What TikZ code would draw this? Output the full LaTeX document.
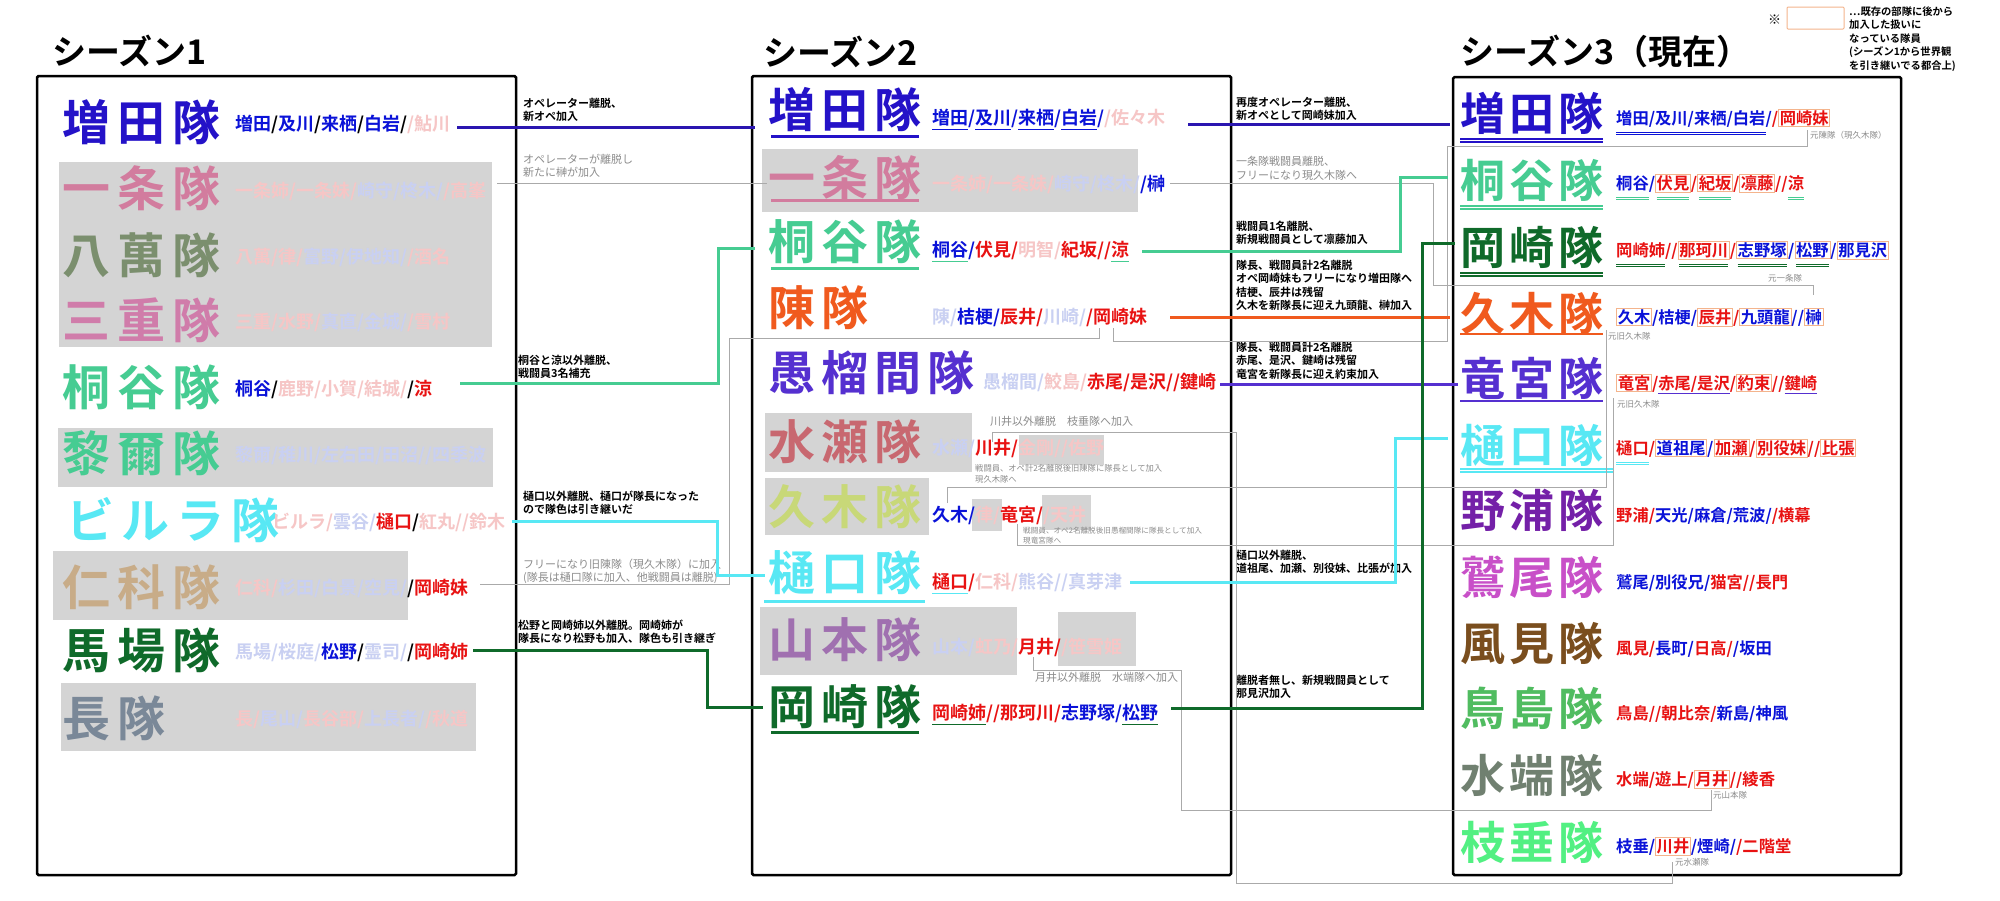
\documentclass[tikz,border=0pt]{standalone}
\usepackage{fontspec}
\setmainfont{Noto Sans CJK JP}[BoldFont={Noto Sans CJK JP Bold}]
\usetikzlibrary{calc}
\newcommand\gA{\kern7pt\relax}
\newcommand\gB{\kern6pt\relax}
\newcommand\gC{\kern4pt\relax}
\definecolor{cmas}{HTML}{2412C8}
\definecolor{lmas}{HTML}{2A16B0}
\definecolor{cichi}{HTML}{D27C9E}
\definecolor{chachi}{HTML}{7B8F6E}
\definecolor{cmie}{HTML}{D07CAA}
\definecolor{ckiri}{HTML}{46CC92}
\definecolor{cbir}{HTML}{58E8F4}
\definecolor{cnish}{HTML}{C8AC88}
\definecolor{cbaba}{HTML}{0F6A2A}
\definecolor{ccho}{HTML}{7A8898}
\definecolor{cchin}{HTML}{F05A1E}
\definecolor{cguru}{HTML}{5530D0}
\definecolor{cmina}{HTML}{C86870}
\definecolor{ckuki}{HTML}{C8D878}
\definecolor{cyama}{HTML}{A070B0}
\definecolor{cnou}{HTML}{7420A8}
\definecolor{cwas}{HTML}{C850C8}
\definecolor{ckaz}{HTML}{7A4E1E}
\definecolor{ctori}{HTML}{50BC60}
\definecolor{cmiz}{HTML}{708070}
\definecolor{cshi}{HTML}{52F082}
\definecolor{nbc}{HTML}{0A12D8}
\definecolor{nrc}{HTML}{E81212}
\definecolor{fpc}{HTML}{F6C6C6}
\definecolor{fbc}{HTML}{C9D0F2}
\definecolor{boxg}{HTML}{D4D4D4}
\definecolor{gtxt}{HTML}{8C8C8C}
\definecolor{glc}{HTML}{AAAAAA}
\definecolor{obc}{HTML}{F4B48C}
\newcommand\nb[1]{\textcolor{nbc}{#1}}
\newcommand\nr[1]{\textcolor{nrc}{#1}}
\newcommand\fp[1]{\textcolor{fpc}{#1}}
\newcommand\fb[1]{\textcolor{fbc}{#1}}
\setlength\fboxsep{0.8pt}
\setlength\fboxrule{0.8pt}
\newcommand\ob[1]{\smash{\fcolorbox{obc}{white}{#1}}}
\newcommand\ulx[2]{\setbox0\hbox{#2}\rlap{\smash{\textcolor{#1}{\rule[-5pt]{\wd0}{1.2pt}}}}\box0}
\newcommand\uux[2]{\setbox0\hbox{#2}\rlap{\smash{\textcolor{#1}{\rule[-8.5pt]{\wd0}{1.1pt}}}}\rlap{\smash{\textcolor{#1}{\rule[-11pt]{\wd0}{1.1pt}}}}\box0}
\tikzset{
 tA/.style={anchor=west, inner sep=0pt, font=\fontsize{48}{48}\selectfont\bfseries, text height=42.24pt, text depth=5.76pt},
 tB/.style={anchor=west, inner sep=0pt, font=\fontsize{47}{47}\selectfont\bfseries, text height=41.36pt, text depth=5.64pt},
 tC/.style={anchor=west, inner sep=0pt, font=\fontsize{45}{45}\selectfont\bfseries, text height=39.6pt, text depth=5.4pt},
 mA/.style={anchor=west, inner sep=0pt, font=\fontsize{18}{18}\selectfont\bfseries, text height=15.84pt, text depth=2.16pt},
 mC/.style={anchor=west, inner sep=0pt, font=\fontsize{16.3}{16.3}\selectfont\bfseries, text height=14.34pt, text depth=1.96pt},
 ttl/.style={anchor=west, inner sep=0pt, font=\fontsize{34}{34}\selectfont\bfseries, text height=29.9pt, text depth=4.1pt},
 note/.style={anchor=north west, inner sep=0pt, align=left, font=\fontsize{11}{13.5}\selectfont\bfseries},
 gnote/.style={anchor=north west, inner sep=0pt, align=left, text=gtxt, font=\fontsize{11}{13.5}\selectfont},
 tnote/.style={anchor=north west, inner sep=0pt, align=left, text=gtxt, font=\fontsize{8.3}{11}\selectfont},
 lab/.style={anchor=west, inner sep=0pt, text=gtxt, font=\fontsize{8.5}{8.5}\selectfont},
 colbox/.style={draw=black, line width=2.5pt, rounded corners=1.5pt},
 gl/.style={draw=glc, line width=1pt},
 cl/.style={line width=3pt},
 ulb/.style={line width=3pt},
 ulc/.style={line width=1.8pt},
}
\begin{document}
\begin{tikzpicture}[x=1pt,y=-1pt]
\useasboundingbox (0,0) rectangle (2000,900);
\fill[white] (0,0) rectangle (2000,900);

% gray backgrounds
\fill[boxg] (59,162) rectangle (492,347);
\fill[boxg] (58,428) rectangle (493,487);
\fill[boxg] (53,551) rectangle (408,620);
\fill[boxg] (61,683) rectangle (476,751);
\fill[boxg] (762,149) rectangle (1138,212);
\fill[boxg] (765,413) rectangle (972,472);
\fill[boxg] (1019,435) rectangle (1104,465);
\fill[boxg] (765,478) rectangle (929,535);
\fill[boxg] (972,499) rectangle (1002,531);
\fill[boxg] (1042,495) rectangle (1091,530);
\fill[boxg] (760,607) rectangle (1017,675);
\fill[boxg] (1058,612) rectangle (1136,666);

% column boxes
\draw[colbox] (37,76) rectangle (516,875);
\draw[colbox] (752,76) rectangle (1231,875);
\draw[colbox] (1453,77) rectangle (1901,875);

% titles
\node[ttl] (t1) at (52,52) {シーズン1};
\node[ttl] (t2) at (763,53) {シーズン2};
\node[ttl] (t3) at (1460,52) {シーズン3（現在）};

% legend
\node[anchor=west, inner sep=0pt, font=\fontsize{13}{13}\selectfont] (lg1) at (1768,20) {※};
\draw[draw=obc, line width=1pt, rounded corners=1pt] (1787,7) rectangle (1844,29);
\node[note, font=\fontsize{10.3}{13.5}\selectfont\bfseries] (lg2) at (1849,6.5) {…既存の部隊に後から\\加入した扱いに\\なっている隊員\\(シーズン1から世界観\\を引き継いでる都合上)};

% ===== column 1 =====
\node[tA, text=cmas] (c1r1) at (62,122) {増\gA 田\gA 隊};
\node[tA, text=cichi] (c1r2) at (62,188) {一\gA 条\gA 隊};
\node[tA, text=chachi] (c1r3) at (62,255) {八\gA 萬\gA 隊};
\node[tA, text=cmie] (c1r4) at (62,320) {三\gA 重\gA 隊};
\node[tA, text=ckiri] (c1r5) at (62,387) {桐\gA 谷\gA 隊};
\node[tA, text=ckiri] (c1r6) at (62,453) {黎\gA 爾\gA 隊};
\node[tA, text=cbir] (c1r7) at (66,520) {ビ\gA ル\gA ラ\gA 隊};
\node[tA, text=cnish] (c1r8) at (62,587) {仁\gA 科\gA 隊};
\node[tA, text=cbaba] (c1r9) at (62,650) {馬\gA 場\gA 隊};
\node[tA, text=ccho] (c1r10) at (62,718) {長\gA 隊};

\node[mA] (c1r1m) at (235,124) {\nb{増田}/\nb{及川}/\nb{来栖}/\nb{白岩}/\fp{/鮎川}};
\node[mA] (c1r2m) at (235,191) {\fp{一条姉/一条妹/}\fb{崎守/柊木/}\fp{/高峯}};
\node[mA] (c1r3m) at (235,257) {\fp{八萬/律/}\fb{富野/伊地知/}\fp{/酒名}};
\node[mA] (c1r4m) at (235,322) {\fp{三重/水野/}\fb{真直/金城/}\fp{/雪村}};
\node[mA] (c1r5m) at (235,389) {\nb{桐谷}/\fp{鹿野/小賀/結城/}/\nr{涼}};
\node[mA] (c1r6m) at (235,455) {\fb{黎爾/稚川/左右田/田沼//四季波}};
\node[mA] (c1r7m) at (272,522) {\fp{ビルラ/}\fb{雲谷/}\nr{樋口}/\fp{紅丸//鈴木}};
\node[mA] (c1r8m) at (235,588) {\fp{仁科/}\fb{杉田/白景/空見/}/\nr{岡崎妹}};
\node[mA] (c1r9m) at (235,652) {\fb{馬場/桜庭/}\nb{松野}/\fb{霊司/}/\nr{岡崎姉}};
\node[mA] (c1r10m) at (235,719) {\fp{長/}\fb{尾山/}\fp{長谷部/}\fb{上長者/}\fp{/秋道}};

% ===== column 2 =====
\node[tB, text=cmas] (c2r1) at (768,110) {増\gB 田\gB 隊};
\node[tB, text=cichi] (c2r2) at (768,178) {一\gB 条\gB 隊};
\node[tB, text=ckiri] (c2r3) at (768,242) {桐\gB 谷\gB 隊};
\node[tB, text=cchin] (c2r4) at (768,308) {陳\gB 隊};
\node[tB, text=cguru] (c2r5) at (768,373) {愚\gB 榴\gB 間\gB 隊};
\node[tB, text=cmina] (c2r6) at (768,442) {水\gB 瀬\gB 隊};
\node[tB, text=ckuki] (c2r7) at (768,507) {久\gB 木\gB 隊};
\node[tB, text=cbir] (c2r8) at (768,573) {樋\gB 口\gB 隊};
\node[tB, text=cyama] (c2r9) at (768,640) {山\gB 本\gB 隊};
\node[tB, text=cbaba] (c2r10) at (768,707) {岡\gB 崎\gB 隊};

\draw[ulb, cmas] ($(c2r1.south west)+(3,3)$) -- ($(c2r1.south east)+(-2,3)$);
\draw[ulb, cichi] ($(c2r2.south west)+(3,-1)$) -- ($(c2r2.south east)+(-2,-1)$);
\draw[ulb, ckiri] ($(c2r3.south west)+(3,3)$) -- ($(c2r3.south east)+(-2,3)$);
\draw[ulb, cbir] ($(c2r8.south west)+(-4,5)$) -- ($(c2r8.south east)+(4,5)$);
\draw[ulb, cbaba] ($(c2r10.south west)+(3,2)$) -- ($(c2r10.south east)+(-2,2)$);

\node[mA] (c2r1m) at (932,118) {\textcolor{nbc}{\ulx{nbc}{増田}/\ulx{nbc}{及川}/\ulx{nbc}{来栖}/\ulx{nbc}{白岩}/}\fp{/佐々木}};
\node[mA] (c2r2m) at (932,184) {\fp{一条姉/一条妹/}\fb{崎守/柊木/}\nb{/榊}};
\node[mA] (c2r3m) at (932,250) {\nb{\ulx{ckiri}{桐谷}/}\nr{伏見/}\fp{明智/}\nr{紀坂//\ulx{ckiri}{涼}}};
\node[mA] (c2r4m) at (932,317) {\fb{陳/}\nb{桔梗/}\nr{辰井/}\fb{川崎/}\nr{/岡崎妹}};
\node[mA] (c2r5m) at (983,382) {\fb{愚榴間/}\fp{鮫島/}\nr{赤尾/是沢//鍵崎}};
\node[mA] (c2r6m) at (932,448) {\fb{水瀬/}\nr{川井/}\fp{金剛//佐野}};
\node[mA] (c2r7m) at (932,515) {\nb{久木/}\fp{律/}\nr{竜宮/}\fp{/天井}};
\node[mA] (c2r8m) at (932,582) {\nr{\ulx{cbir}{樋口}/}\fp{仁科/}\fb{熊谷//真芽津}};
\node[mA] (c2r9m) at (932,647) {\fb{山本/}\fp{虹乃/}\nr{月井/}\fp{/笹雪姫}};
\node[mA] (c2r10m) at (932,713) {\nr{\ulx{cbaba}{岡崎姉}//那珂川/}\nb{志野塚/\ulx{cbaba}{松野}}};

% ===== column 3 =====
\node[tC, text=cmas] (c3r1) at (1460,113) {増\gC 田\gC 隊};
\node[tC, text=ckiri] (c3r2) at (1460,180) {桐\gC 谷\gC 隊};
\node[tC, text=cbaba] (c3r3) at (1460,247) {岡\gC 崎\gC 隊};
\node[tC, text=cchin] (c3r4) at (1460,313) {久\gC 木\gC 隊};
\node[tC, text=cguru] (c3r5) at (1460,378) {竜\gC 宮\gC 隊};
\node[tC, text=cbir] (c3r6) at (1460,445) {樋\gC 口\gC 隊};
\node[tC, text=cnou] (c3r7) at (1460,510) {野\gC 浦\gC 隊};
\node[tC, text=cwas] (c3r8) at (1460,577) {鷲\gC 尾\gC 隊};
\node[tC, text=ckaz] (c3r9) at (1460,643) {風\gC 見\gC 隊};
\node[tC, text=ctori] (c3r10) at (1460,708) {鳥\gC 島\gC 隊};
\node[tC, text=cmiz] (c3r11) at (1460,775) {水\gC 端\gC 隊};
\node[tC, text=cshi] (c3r12) at (1460,842) {枝\gC 垂\gC 隊};

\foreach \n/\c in {c3r1/cmas, c3r2/ckiri, c3r3/cbaba}{
 \draw[ulc, \c] ($(\n.south west)+(0,3.5)$) -- ($(\n.south east)+(0,3.5)$);
 \draw[ulc, \c] ($(\n.south west)+(0,6.5)$) -- ($(\n.south east)+(0,6.5)$);
}
\draw[ulc, cbir] ($(c3r6.south west)+(0,1)$) -- ($(c3r6.south east)+(10,1)$);
\draw[ulc, cbir] ($(c3r6.south west)+(0,4.5)$) -- ($(c3r6.south east)+(10,4.5)$);
\draw[ulc, cchin] ($(c3r4.south west)+(0,-1.5)$) -- ($(c3r4.south east)+(0,-1.5)$);
\draw[ulc, cguru] ($(c3r5.south west)+(0,0)$) -- ($(c3r5.south east)+(0,0)$);

\node[mC] (c3r1m) at (1616,118) {\textcolor{nbc}{\uux{nbc}{増田/及川/来栖/白岩}/}\nr{/}\ob{\nr{岡崎妹}}};
\node[mC] (c3r2m) at (1616,183) {\uux{ckiri}{\nb{桐谷}}\nb{/}\ob{\uux{ckiri}{\nr{伏見}}}\nr{/}\ob{\uux{ckiri}{\nr{紀坂}}}\nr{/}\ob{\nr{凛藤}}\nr{//}\uux{ckiri}{\nr{涼}}};
\node[mC] (c3r3m) at (1616,250) {\uux{cbaba}{\nr{岡崎姉}}\nr{//}\ob{\uux{cbaba}{\nr{那珂川}}}\nr{/}\ob{\uux{cbaba}{\nb{志野塚}}}\nb{/}\ob{\uux{cbaba}{\nb{松野}}}\nb{/}\ob{\nb{那見沢}}};
\node[mC] (c3r4m) at (1616,317) {\ob{\nb{久木}}\nb{/桔梗/}\ob{\nr{辰井}}\nr{/}\ob{\nb{九頭龍}}\nb{//}\ob{\nb{榊}}};
\node[mC] (c3r5m) at (1616,383) {\ob{\nr{竜宮}}\nr{/\ulx{cguru}{赤尾/是沢}/}\ob{\nr{約束}}\nr{//\ulx{cguru}{鍵崎}}};
\node[mC] (c3r6m) at (1616,448) {\uux{cbir}{\nr{樋口}}\nr{/}\ob{\nb{道祖尾}}\nb{/}\ob{\nr{加瀬}}\nr{/}\ob{\nr{別役妹}}\nr{//}\ob{\nr{比張}}};
\node[mC] (c3r7m) at (1616,515) {\nr{野浦/}\nb{天光/麻倉/荒波/}\nr{/横幕}};
\node[mC] (c3r8m) at (1616,582) {\nb{鷲尾/別役兄/}\nr{猫宮//長門}};
\node[mC] (c3r9m) at (1616,648) {\nr{風見/}\nb{長町/}\nr{日高/}\nb{/坂田}};
\node[mC] (c3r10m) at (1616,713) {\nr{鳥島//朝比奈/}\nb{新島/神風}};
\node[mC] (c3r11m) at (1616,779) {\nr{水端/遊上/}\ob{\nr{月井}}\nr{//綾香}};
\node[mC] (c3r12m) at (1616,846) {\nb{枝垂/}\ob{\nr{川井}}\nb{/煙崎/}\nr{/二階堂}};

% small labels col3
\node[lab] (l1) at (1810,135) {元陳隊（現久木隊）};
\node[lab] (l2) at (1768,278) {元一条隊};
\node[lab] (l3) at (1608,336) {元旧久木隊};
\node[lab] (l4) at (1617,404) {元旧久木隊};
\node[lab] (l5) at (1713,795) {元山本隊};
\node[lab] (l6) at (1675,862) {元水瀬隊};

% ===== annotations =====
\node[note] (a1) at (523,97.5) {オペレーター離脱、\\新オペ加入};
\node[gnote] (a2) at (523,153.5) {オペレーターが離脱し\\新たに榊が加入};
\node[note] (a3) at (518,354.5) {桐谷と涼以外離脱、\\戦闘員3名補充};
\node[note] (a4) at (523,490.5) {樋口以外離脱、樋口が隊長になった\\ので隊色は引き継いだ};
\node[gnote] (a5) at (523,558.5) {フリーになり旧陳隊（現久木隊）に加入\\(隊長は樋口隊に加入、他戦闘員は離脱)};
\node[note] (a6) at (518,619.5) {松野と岡崎姉以外離脱。岡崎姉が\\隊長になり松野も加入、隊色も引き継ぎ};

\node[note] (b1) at (1236,96.5) {再度オペレーター離脱、\\新オペとして岡崎妹加入};
\node[gnote] (b2) at (1236,156.5) {一条隊戦闘員離脱、\\フリーになり現久木隊へ};
\node[note] (b3) at (1236,220.5) {戦闘員1名離脱、\\新規戦闘員として凛藤加入};
\node[note] (b4) at (1236,259.5) {隊長、戦闘員計2名離脱\\オペ岡崎妹もフリーになり増田隊へ\\桔梗、辰井は残留\\久木を新隊長に迎え九頭龍、榊加入};
\node[note] (b5) at (1236,341.5) {隊長、戦闘員計2名離脱\\赤尾、是沢、鍵崎は残留\\竜宮を新隊長に迎え約束加入};
\node[note] (b6) at (1236,549.5) {樋口以外離脱、\\道祖尾、加瀬、別役妹、比張が加入};
\node[note] (b7) at (1236,674.5) {離脱者無し、新規戦闘員として\\那見沢加入};

\node[gnote] (d1) at (990,416.5) {川井以外離脱\quad 枝垂隊へ加入};
\node[tnote] (d2) at (975,464.5) {戦闘員、オペ計2名離脱後旧陳隊に隊長として加入\\現久木隊へ};
\node[tnote, font=\fontsize{7.6}{10}\selectfont] (d3) at (1023,527) {戦闘員、オペ2名離脱後旧愚榴間隊に隊長として加入\\現竜宮隊へ};
\node[gnote] (d4) at (1035,672.5) {月井以外離脱\quad 水端隊へ加入};

% ===== gray connectors =====
\coordinate (g2m) at (729,338);
\coordinate (g2e) at (1099,328);
\coordinate (g3s) at (1113,328);
\coordinate (g3m) at (1447,341);
\coordinate (g3n) at (1807,146);
\coordinate (g3e) at (1807,130);
\coordinate (g4m) at (1433,285);
\coordinate (g4e) at (1813,295);
\coordinate (g5s) at (947,503);
\coordinate (g5m) at (1606,487);
\coordinate (g5e) at (1606,330);
\coordinate (g6s) at (1017,524);
\coordinate (g6m) at (1613,545);
\coordinate (g6e) at (1613,398);
\coordinate (g7s) at (992,442);
\coordinate (g7a) at (1236,432);
\coordinate (g7b) at (1672,883);
\coordinate (g7e) at (1672,862);
\coordinate (g8s) at (1033,657);
\coordinate (g8a) at (1181,670);
\coordinate (g8b) at (1711,810);
\coordinate (g8e) at (1711,790);

\draw[gl] ([xshift=11pt,yshift=8pt]c1r2m.east) -- ($(c1r2m.east -| c2r2.west)+(-1,-8)$);
\draw[gl] ([xshift=12pt,yshift=4pt]c1r8m.east) -| (g2m) -| (g2e);
\draw[gl] (g3s) |- (g3m) |- (g3n) -- (g3e);
\draw[gl] ([xshift=5pt,yshift=1pt]c2r2m.east) -| (g4m) -| (g4e);
\draw[gl] (g5s) |- (g5m) -- (g5e);
\draw[gl] (g6s) |- (g6m) -- (g6e);
\draw[gl] (g7s) |- (g7a) |- (g7b) -- (g7e);
\draw[gl] (g8s) |- (g8a) |- (g8b) -- (g8e);

% ===== colored connectors =====
\draw[cl, lmas] ([xshift=7pt,yshift=-3pt]c1r1m.east) -- ($(c1r1m.east -| c2r1.west)+(-13,3)$);
\draw[cl, ckiri] ([xshift=28pt,yshift=6pt]c1r5m.east) -| ($(c2r3.west)+(-50,6)$) -- ($(c2r3.west)+(-13,6)$);
\draw[cl, cbir] ([xshift=7pt,yshift=1pt]c1r7m.east) -| ($(c2r8.west)+(-51,2)$) -- ($(c2r8.west)+(-3,2)$);
\draw[cl, cbaba] ([xshift=5pt,yshift=2pt]c1r9m.east) -| ($(c2r10.west)+(-61,0)$) -- ($(c2r10.west)+(-5,0)$);

\draw[cl, lmas] ([xshift=23pt,yshift=-6pt]c2r1m.east) -- ($(c2r1m.east -| c3r1.west)+(-10,6)$);
\draw[cl, ckiri] ([xshift=13pt,yshift=-1pt]c2r3m.east) -| ($(c3r2.west)+(-60,-3)$) -- ($(c3r2.west)+(-12,-3)$);
\draw[cl, cchin, shorten <=23pt, shorten >=10pt] (c2r4m.east) -- (c2r4m.east -| c3r4.west);
\draw[cl, cguru] ([xshift=4pt,yshift=-2pt]c2r5m.east) -- ($(c2r5m.east -| c3r5.west)+(-2,2)$);
\draw[cl, cbir] ([xshift=8pt]c2r8m.east) -| ($(c3r6.west)+(-65,-7)$) -- ($(c3r6.west)+(-12,-7)$);
\draw[cl, cbaba] ([xshift=13pt,yshift=5pt]c2r10m.east) -| ($(c3r3.west)+(-38,-4)$) -- ($(c3r3.west)+(-5,-4)$);
\end{tikzpicture}
\end{document}
